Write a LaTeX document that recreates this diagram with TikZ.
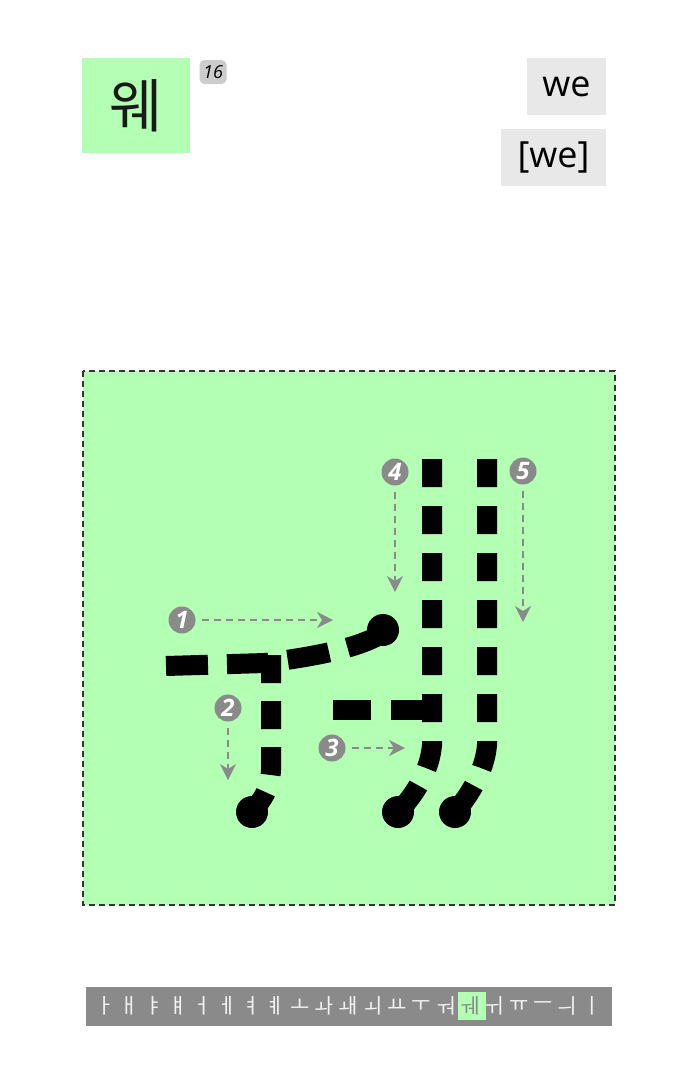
\documentclass[tikz,border=0pt]{standalone}
\usepackage{fontspec}
\usepackage{tikz}
\usetikzlibrary{arrows.meta}
\newfontfamily\krfont{Noto Sans CJK KR}
\newfontfamily\latfont{Open Sans}
\definecolor{leaf}{RGB}{179,255,179}
\definecolor{cuegray}{RGB}{138,138,138}
\definecolor{paper}{RGB}{232,232,232}

\begin{document}
\begin{tikzpicture}[x=1pt,y=-1pt]
\useasboundingbox (0,0) rectangle (699,1080);
% header
\fill[leaf] (82,58) rectangle (190,153);
\node[inner sep=0pt,text=black!90] (syl) at (136,106) {\krfont\fontsize{58}{60}\selectfont 웨};
\node[fill=black!20,rounded corners=5pt,minimum width=27pt,minimum height=24pt,inner sep=1pt] (idx) at (213,72) {\latfont\itshape\fontsize{18}{20}\selectfont 16};
\node[fill=paper,minimum width=79pt,minimum height=57pt,inner sep=0pt] (rom) at (566.5,86.5) {\latfont\fontsize{36}{40}\selectfont we};
\node[fill=paper,minimum width=105pt,minimum height=57pt,inner sep=0pt] (ipa) at (553.5,157.5) {\latfont\fontsize{36}{40}\selectfont [we]};
% stroke field
\draw[fill=leaf,draw=black!80,line width=1.6pt,dash pattern=on 6pt off 4pt] (83,371) rectangle (615,905);
\begin{scope}[line width=20pt,black]
  \draw[dash pattern=on 42pt off 19pt] (166,666) -- (265,663) .. controls (310,657) and (350,650) .. (376,637);
  \draw[dash pattern=on 28pt off 18pt] (271,655) -- (271,770) .. controls (270,790) and (262,800) .. (252,812);
  \draw[dash pattern=on 38pt off 20pt] (333,710) -- (430,710);
  \draw[dash pattern=on 28pt off 19pt] (432,459) -- (432,745) .. controls (430,770) and (415,795) .. (398,812);
  \draw[dash pattern=on 28pt off 19pt] (487,459) -- (487,745) .. controls (485,770) and (470,795) .. (455,812);
  \fill (383,630) circle (16);
  \fill (252,812) circle (16);
  \fill (398,812) circle (16);
  \fill (455,812) circle (16);
\end{scope}
% order marks
\begin{scope}[every node/.style={circle,fill=cuegray,text=white,minimum size=27pt,inner sep=0pt,font=\latfont\itshape\bfseries\fontsize{24}{24}\selectfont}]
  \node (n1) at (182,620) {1};
  \node (n2) at (228,708) {2};
  \node (n3) at (332,748) {3};
  \node (n4) at (395,472) {4};
  \node (n5) at (523,471) {5};
\end{scope}
\coordinate (t1) at (333,620);
\coordinate (t2) at (228,780);
\coordinate (t3) at (405,748);
\coordinate (t4) at (395,592);
\coordinate (t5) at (523,622);
\begin{scope}[cuegray,line width=1.5pt,dash pattern=on 7pt off 5pt,shorten <=6pt,-{Stealth[length=16pt,width=16pt,inset=5pt,sep=0pt]}]
  \draw (n1) -- (t1);
  \draw (n2) -- (t2);
  \draw (n3) -- (t3);
  \draw (n4) -- (t4);
  \draw (n5) -- (t5);
\end{scope}
% vowel strip
\fill[cuegray] (86,987) rectangle (612,1026);
\fill[leaf] (458,992) rectangle (486,1020);
\foreach \v [count=\i from 0] in {ㅏ,ㅐ,ㅑ,ㅒ,ㅓ,ㅔ,ㅕ,ㅖ,ㅗ,ㅘ,ㅙ,ㅚ,ㅛ,ㅜ,ㅝ,ㅞ,ㅟ,ㅠ,ㅡ,ㅢ,ㅣ}{
  \ifnum\i=15 \def\vc{cuegray}\else\def\vc{black!5}\fi
  \node[inner sep=0pt,text=\vc] (v\i) at (105+\i*24.35,1006) {\krfont\fontsize{21}{22}\selectfont \v};
}
\end{tikzpicture}
\end{document}
